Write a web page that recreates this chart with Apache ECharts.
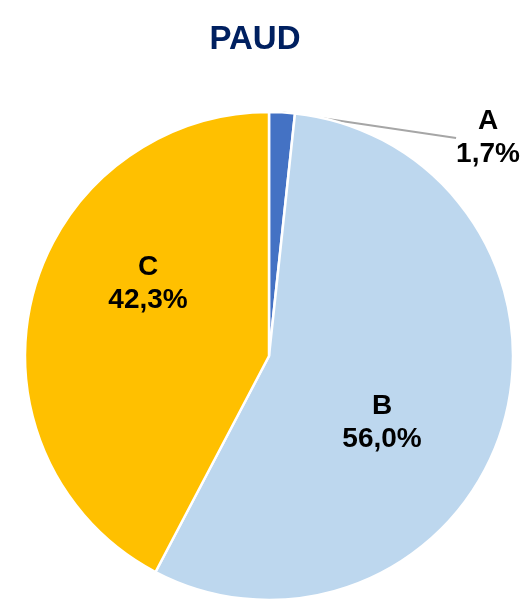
<!DOCTYPE html>
<html>
<head>
<meta charset="utf-8">
<script src="https://cdn.jsdelivr.net/npm/echarts@6/dist/echarts.min.js"></script>
<style>
html,body{margin:0;padding:0;background:#fff;}
#main{width:526px;height:601px;}
</style>
</head>
<body>
<div id="main"></div>
<script>
var categories = ['A', 'B', 'C'];
var values = [1.7, 56.0, 42.3];
var colors = ['#4472C4', '#BDD7EE', '#FFC000'];
// label anchor points (centre of each label block)
var labelPos = [[488, 138], [382, 423], [148, 284]];

var myChart = echarts.init(document.getElementById('main'));

var pieData = categories.map(function (name, i) {
    var item = {
        name: name,
        value: values[i],
        itemStyle: { color: colors[i] }
    };
    if (i === 0) {
        item.label = { position: 'outside' };
        item.labelLine = { show: true, length: 4, length2: 0 };
    } else {
        item.label = { position: 'inside' };
        item.labelLine = { show: false };
    }
    return item;
});

var option = {
    title: {
        text: 'PAUD',
        left: 250,
        top: 18,
        textAlign: 'center',
        textStyle: {
            fontFamily: 'Liberation Sans, Arial, sans-serif',
            fontSize: 33,
            fontWeight: 'bold',
            color: '#002060'
        }
    },
    series: [{
        type: 'pie',
        center: [269, 356],
        radius: 244,
        startAngle: 90,
        clockwise: true,
        animation: false,
        itemStyle: { borderColor: '#fff', borderWidth: 2.5 },
        label: {
            show: true,
            fontFamily: 'Liberation Sans, Arial, sans-serif',
            fontSize: 28,
            fontWeight: 'bold',
            color: '#000',
            lineHeight: 33,
            align: 'center',
            formatter: function (p) {
                return p.name + '\n' + p.value.toFixed(1).replace('.', ',') + '%';
            }
        },
        labelLine: {
            lineStyle: { color: '#A6A6A6', width: 2 }
        },
        labelLayout: function (params) {
            var p = labelPos[params.dataIndex];
            return { x: p[0], y: p[1], align: 'center', verticalAlign: 'middle' };
        },
        data: pieData
    }]
};

myChart.setOption(option);
</script>
</body>
</html>
